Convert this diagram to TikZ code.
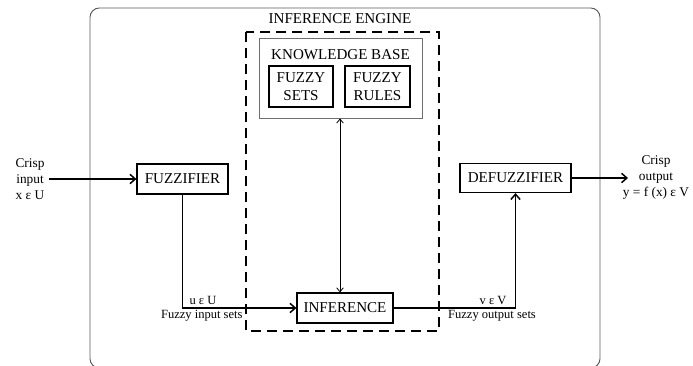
\documentclass[tikz,border=0pt]{standalone}
\usepackage{fontspec}
\setmainfont{Liberation Serif}
\usetikzlibrary{arrows.meta}

\tikzset{every picture/.style={line width=0.75pt}}
\tikzset{
  blockbox/.style={draw, line width=0.9pt, inner sep=0pt, align=center, font=\fontsize{11.3}{13.5}\selectfont},
  flowline/.style={line width=1.1pt, -{Straight Barb[length=4pt,width=7pt,line width=1.1pt]}},
  smalltext/.style={inner sep=0.75pt, font=\fontsize{9.4}{11}\selectfont},
  crisptext/.style={inner sep=0.75pt, align=center, font=\fontsize{10}{12}\selectfont},
}

\begin{document}
\begin{tikzpicture}[x=0.75pt,y=0.75pt,yscale=-1,xscale=1]
        \useasboundingbox (0,0) rectangle (693,366);

        %Shape: Rounded Rect [id:frame] 
        \draw [color={rgb, 255:red, 90; green, 90; blue, 90}, line width=0.7pt, rounded corners=7pt] (90,8) rectangle (600,368) ;
        %Shape: Rectangle [id:engine] 
        \draw [line width=1.5pt, dash pattern={on 7.5pt off 4.5pt}] (246,32) rectangle (439,331) ;
        % Text Node
        \node (enginetitle) at (340,19) [inner sep=0.75pt, font=\fontsize{11.3}{13}\selectfont] {INFERENCE ENGINE};

        %Shape: Rectangle [id:kb] 
        \node (kb) at (340.5,78) [draw, color={rgb, 255:red, 110; green, 110; blue, 110}, line width=0.7pt, minimum width=122.25pt, minimum height=60pt] {};
        % Text Node
        \node (kbtitle) at (340.5,55) [inner sep=0.75pt, font=\fontsize{11.3}{13}\selectfont] {KNOWLEDGE BASE};
        \node (fuzzysets) at (301,86.5) [blockbox, minimum width=48pt, minimum height=30.75pt] {FUZZY\\SETS};
        \node (fuzzyrules) at (377.5,86.5) [blockbox, minimum width=48.75pt, minimum height=30.75pt] {FUZZY\\RULES};

        %Shape: Rectangle [id:blocks] 
        \node (fuzzifier) at (182.5,179) [blockbox, minimum width=68.25pt, minimum height=22.5pt] {FUZZIFIER};
        \node (inference) at (345,308) [blockbox, minimum width=72pt, minimum height=22.5pt] {INFERENCE};
        \node (defuzzifier) at (515.5,178) [blockbox, minimum width=83.25pt, minimum height=21.75pt] {DEFUZZIFIER};

        \coordinate (crispin) at (49,179) ;
        \coordinate (crispout) at (628,178) ;

        %Straight Lines [id:arrows] 
        \draw [flowline] (crispin) -- (fuzzifier.west) ;
        \draw [flowline] (fuzzifier.south) |- (inference.west) ;
        \draw [flowline] (inference.east) -| (defuzzifier.south) ;
        \draw [flowline] (defuzzifier.east) -- (crispout) ;
        \draw [line width=0.6pt, {Straight Barb[length=3pt,width=5pt]}-{Straight Barb[length=3pt,width=5pt]}] (kb.south -| 340,0) -- (inference.north -| 340,0) ;

        % Text Node
        \node (inlabel) at (30,179) [crisptext] {Crisp\\input\\x ε U};
        \node (outlabel) at (656,178) [crisptext] {Crisp\\output\\y = f (x) ε V};
        \node (uset) at (188,306) [smalltext, anchor=south west] {u ε U};
        \node (uname) at (244,309) [smalltext, anchor=north east] {Fuzzy input sets};
        \node (vset) at (508,306) [smalltext, anchor=south east] {v ε V};
        \node (vname) at (492,309) [smalltext, anchor=north] {Fuzzy output sets};

\end{tikzpicture}
\end{document}
